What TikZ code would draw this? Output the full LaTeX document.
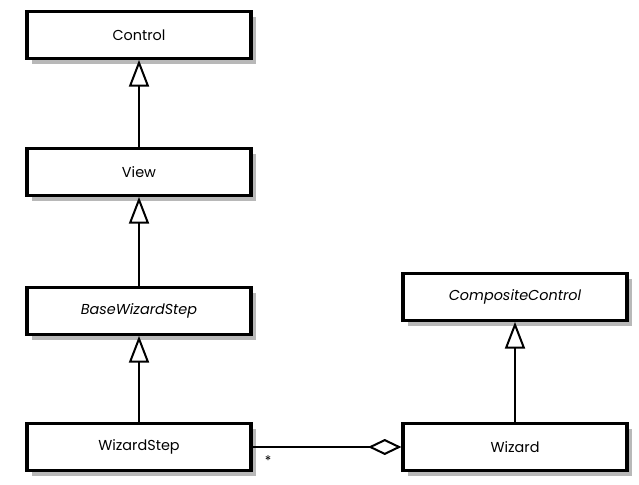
\documentclass[tikz,border=0pt]{standalone}
\usepackage{fontspec}
\setmainfont{Poppins}
\usetikzlibrary{arrows.meta,shadows}
\begin{document}
\begin{tikzpicture}[x=0.75pt,y=-0.75pt,
  cls/.style={draw=black,line width=2.4pt,fill=white,minimum width=168pt,minimum height=35pt,inner sep=0pt,
    font=\fontsize{10.8}{12}\selectfont,
    drop shadow={shadow xshift=4pt,shadow yshift=-4pt,fill=black!28,opacity=1}},
  gen/.style={line width=1.5pt,-{Triangle[open,length=20pt,width=15pt,line width=1.5pt]}},
  agg/.style={line width=1.5pt,-{Diamond[open,length=25pt,width=12pt,line width=1.5pt]}}]
\useasboundingbox (0,0) rectangle (639,485);
\node[cls] (control) at (139,35) {Control};
\node[cls] (view) at (139,172) {View};
\node[cls] (base) at (139,311) {\itshape BaseWizardStep};
\node[cls] (step) at (139,447) {WizardStep};
\node[cls] (comp) at (515,297) {\itshape CompositeControl};
\node[cls] (wizard) at (515,447) {Wizard};
\draw[gen] (view) -- (control);
\draw[gen] (base) -- (view);
\draw[gen] (step) -- (base);
\draw[gen] (wizard) -- (comp);
\draw[agg] (step) -- (wizard);
\node[font=\fontsize{10}{11}\selectfont] (mult) at (268,461) {*};
\end{tikzpicture}
\end{document}
